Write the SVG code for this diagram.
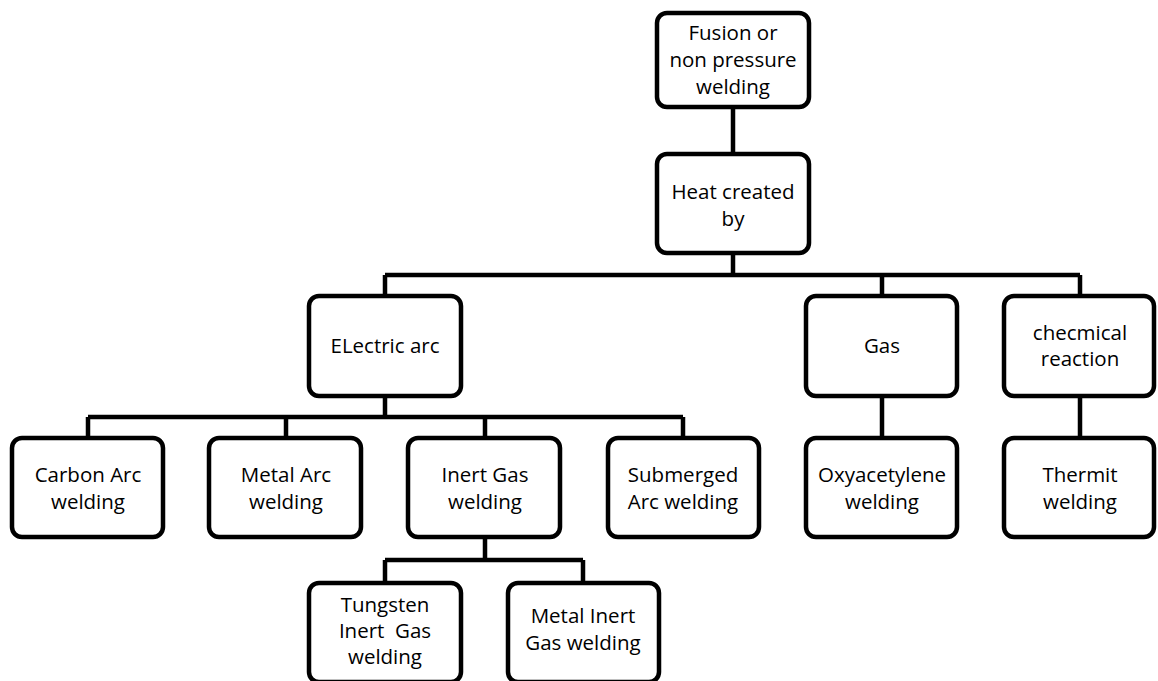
<svg xmlns="http://www.w3.org/2000/svg" width="1158" height="681" viewBox="0 0 1158 681">
<style>
.box{fill:#fff;stroke:#000;stroke-width:4.5}
.lbl{font-family:"Open Sans","Noto Sans",sans-serif;font-size:20.5px;fill:#000;text-anchor:middle}
.con{fill:none;stroke:#000;stroke-width:4.5;stroke-linejoin:miter}
</style>
<rect width="1158" height="681" fill="#fff"/>
<g id="connectors">
<path class="con" d="M733 107V154M733 253V275M385 275H1080M385 275V296M882 275V296M1080 275V296"/>
<path class="con" d="M385 396V417M88 417H683M88 417V438M286 417V438M485 417V438M683 417V438"/>
<path class="con" d="M882 396V438M1080 396V438"/>
<path class="con" d="M485 537V560M385 560H583M385 560V583M583 560V583"/>
</g>
<g id="fusion"><rect class="box" x="657" y="13" width="152" height="94" rx="10"/>
<text class="lbl" x="733" y="40">Fusion or</text><text class="lbl" x="733" y="67">non pressure</text><text class="lbl" x="733" y="94">welding</text></g>
<g id="heat"><rect class="box" x="657" y="154" width="152" height="99" rx="10"/>
<text class="lbl" x="733" y="199">Heat created</text><text class="lbl" x="733" y="226">by</text></g>
<g id="electric"><rect class="box" x="309" y="296" width="152" height="100" rx="10"/>
<text class="lbl" x="385" y="353">ELectric arc</text></g>
<g id="gas"><rect class="box" x="806" y="296" width="151" height="100" rx="10"/>
<text class="lbl" x="882" y="353">Gas</text></g>
<g id="chemical"><rect class="box" x="1004" y="296" width="150" height="100" rx="10"/>
<text class="lbl" x="1080" y="340">checmical</text><text class="lbl" x="1080" y="366">reaction</text></g>
<g id="carbon"><rect class="box" x="12" y="438" width="151" height="99" rx="10"/>
<text class="lbl" x="88" y="482">Carbon Arc</text><text class="lbl" x="88" y="509">welding</text></g>
<g id="metalarc"><rect class="box" x="209" y="438" width="152" height="99" rx="10"/>
<text class="lbl" x="286" y="482">Metal Arc</text><text class="lbl" x="286" y="509">welding</text></g>
<g id="inertgas"><rect class="box" x="408" y="438" width="152" height="99" rx="10"/>
<text class="lbl" x="485" y="482">Inert Gas</text><text class="lbl" x="485" y="509">welding</text></g>
<g id="submerged"><rect class="box" x="608" y="438" width="151" height="99" rx="10"/>
<text class="lbl" x="683" y="482">Submerged</text><text class="lbl" x="683" y="509">Arc welding</text></g>
<g id="oxy"><rect class="box" x="806" y="438" width="151" height="99" rx="10"/>
<text class="lbl" x="882" y="482">Oxyacetylene</text><text class="lbl" x="882" y="509">welding</text></g>
<g id="thermit"><rect class="box" x="1004" y="438" width="150" height="99" rx="10"/>
<text class="lbl" x="1080" y="482">Thermit</text><text class="lbl" x="1080" y="509">welding</text></g>
<g id="tungsten"><rect class="box" x="309" y="583" width="152" height="99" rx="10"/>
<text class="lbl" x="385" y="612">Tungsten</text><text class="lbl" x="385" y="638" xml:space="preserve">Inert  Gas</text><text class="lbl" x="385" y="664">welding</text></g>
<g id="mig"><rect class="box" x="508" y="583" width="151" height="99" rx="10"/>
<text class="lbl" x="583" y="623">Metal Inert</text><text class="lbl" x="583" y="650">Gas welding</text></g>
</svg>
